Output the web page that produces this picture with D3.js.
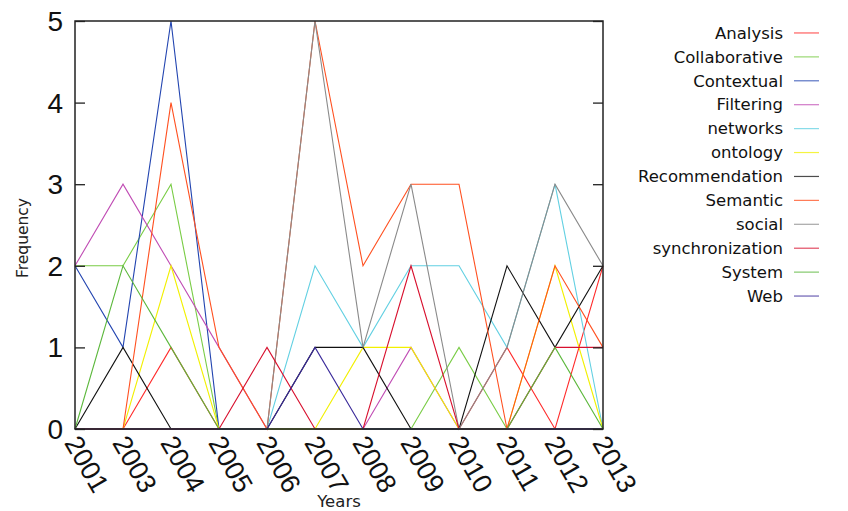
<!DOCTYPE html>
<html>
<head>
<meta charset="utf-8">
<script src="https://cdn.jsdelivr.net/npm/d3@7"></script>
<style>
body { margin: 0; background: #fff; }
svg { display: block; }
</style>
</head>
<body>
<svg width="848" height="511"></svg>
<script>
var years = ["2001", "2003", "2004", "2005", "2006", "2007", "2008", "2009", "2010", "2011", "2012", "2013"];
var yTicks = [0, 1, 2, 3, 4, 5];

var analysis        = [0, 0, 1, 0, 0, 0, 0, 0, 0, 1, 0, 2];
var collaborative   = [2, 2, 3, 0, 0, 0, 0, 0, 1, 0, 0, 0];
var contextual      = [2, 1, 5, 0, 0, 0, 0, 0, 0, 0, 0, 0];
var filtering       = [2, 3, 2, 1, 0, 0, 0, 1, 0, 0, 0, 0];
var networks        = [0, 0, 0, 0, 0, 2, 1, 2, 2, 1, 3, 0];
var ontology        = [0, 0, 2, 0, 0, 0, 1, 1, 0, 0, 2, 0];
var recommendation  = [0, 1, 0, 0, 0, 1, 1, 0, 0, 2, 1, 2];
var semantic        = [0, 0, 4, 1, 0, 5, 2, 3, 3, 0, 2, 1];
var social          = [0, 0, 0, 0, 0, 5, 1, 3, 0, 1, 3, 2];
var synchronization = [0, 0, 0, 0, 1, 0, 0, 2, 0, 0, 1, 1];
var system          = [0, 2, 1, 0, 0, 0, 0, 0, 0, 0, 1, 0];
var web             = [0, 0, 0, 0, 0, 1, 0, 0, 0, 0, 0, 0];

var series = [
    {name: "Analysis", values: analysis, color: "#ff2a2a"},
    {name: "Collaborative", values: collaborative, color: "#79cc45"},
    {name: "Contextual", values: contextual, color: "#2244b0"},
    {name: "Filtering", values: filtering, color: "#c04cb4"},
    {name: "networks", values: networks, color: "#62d0e2"},
    {name: "ontology", values: ontology, color: "#f2f000"},
    {name: "Recommendation", values: recommendation, color: "#111111"},
    {name: "Semantic", values: semantic, color: "#ff5020"},
    {name: "social", values: social, color: "#8a8a8a"},
    {name: "synchronization", values: synchronization, color: "#d8102e"},
    {name: "System", values: system, color: "#5cb83c"},
    {name: "Web", values: web, color: "#3a2a9a"}
];

function drawChart() {
    var svg = d3.select("svg");
    var left = 75, right = 603, top = 21, bottom = 429;

    var scX = d3.scalePoint().domain(years).range([left, right]);
    var scY = d3.scaleLinear().domain([0, 5]).range([bottom, top]);

    // lines
    var lineMaker = d3.line()
        .x((d, i) => scX(years[i]))
        .y(d => scY(d));

    var g = svg.append("g");
    series.forEach(function(s) {
        g.append("path")
            .attr("fill", "none")
            .attr("stroke", s.color)
            .attr("stroke-width", 1.1)
            .attr("d", lineMaker(s.values));
    });

    // frame
    svg.append("rect")
        .attr("x", left).attr("y", top)
        .attr("width", right - left).attr("height", bottom - top)
        .attr("fill", "none")
        .attr("stroke", "#222")
        .attr("stroke-width", 1.5);

    // y axis, ticks inward on both sides
    var axL = svg.append("g")
        .attr("transform", `translate(${left},0)`)
        .call(d3.axisRight(scY).tickValues(yTicks).tickSize(10).tickFormat(""));
    var axR = svg.append("g")
        .attr("transform", `translate(${right},0)`)
        .call(d3.axisLeft(scY).tickValues(yTicks).tickSize(10).tickFormat(""));
    [axL, axR].forEach(function(ax) {
        ax.select(".domain").remove();
        ax.selectAll("line").attr("stroke", "#222").attr("stroke-width", 1.3);
    });

    svg.append("g").selectAll("text")
        .data(yTicks)
        .enter()
        .append("text")
        .attr("x", 63)
        .attr("y", d => scY(d))
        .attr("dy", "0.36em")
        .attr("text-anchor", "end")
        .attr("font-family", "Liberation Sans, Arial, sans-serif")
        .attr("font-size", 28)
        .attr("fill", "#111")
        .text(d => d);

    // x tick labels, rotated
    svg.append("g").selectAll("text")
        .data(years)
        .enter()
        .append("text")
        .attr("transform", d => `translate(${scX(d) - 3},${bottom + 9}) rotate(60)`)
        .attr("dy", "0.35em")
        .attr("text-anchor", "start")
        .attr("font-family", "Liberation Sans, Arial, sans-serif")
        .attr("font-size", 27)
        .attr("fill", "#111")
        .text(d => d);

    // axis titles
    svg.append("text")
        .attr("transform", "translate(28,238) rotate(-90)")
        .attr("text-anchor", "middle")
        .attr("font-family", "DejaVu Sans, sans-serif")
        .attr("font-size", 15.5)
        .attr("fill", "#222")
        .text("Frequency");

    svg.append("text")
        .attr("x", 339).attr("y", 507)
        .attr("text-anchor", "middle")
        .attr("font-family", "DejaVu Sans, sans-serif")
        .attr("font-size", 16.5)
        .attr("fill", "#222")
        .text("Years");

    // legend
    var scLeg = d3.scaleBand().domain(series.map(s => s.name)).range([21, 308]);
    var leg = svg.append("g").selectAll("g")
        .data(series)
        .enter()
        .append("g")
        .attr("transform", d => `translate(0,${scLeg(d.name) + scLeg.bandwidth() / 2})`);
    leg.append("text")
        .attr("x", 783)
        .attr("dy", "0.35em")
        .attr("text-anchor", "end")
        .attr("font-family", "DejaVu Sans, sans-serif")
        .attr("font-size", 16.5)
        .attr("fill", "#111")
        .text(d => d.name);
    leg.append("line")
        .attr("x1", 794).attr("x2", 819)
        .attr("stroke", d => d.color)
        .attr("stroke-opacity", 0.75)
        .attr("stroke-width", 1.2);
}

drawChart();
</script>
</body>
</html>
